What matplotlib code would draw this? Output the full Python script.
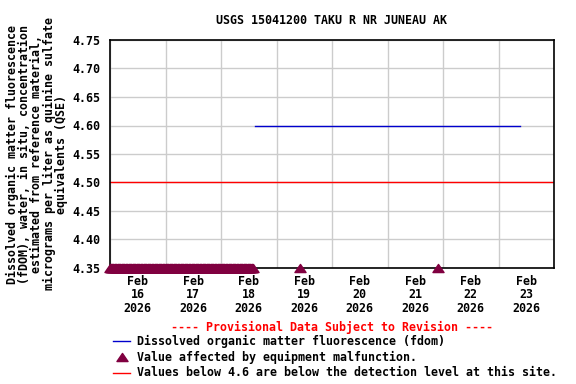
import matplotlib
matplotlib.use("Agg")
import matplotlib.pyplot as plt
import matplotlib.dates as mdates
from matplotlib.lines import Line2D
from matplotlib.path import Path
import pandas as pd

# fdom record (flat at 4.60 over the whole period)
fdom_times = ["2026-02-18 14:30", "2026-02-23 09:15"]
fdom_values = [4.60, 4.60]

# periods flagged as equipment malfunction (15-minute readings)
malf_band_start = "2026-02-16 00:00"
malf_band_end = "2026-02-18 13:45"
malf_single_times = ["2026-02-19 10:00", "2026-02-21 21:45"]

detection_level = 4.50
y_ticks = [4.35, 4.40, 4.45, 4.50, 4.55, 4.60, 4.65, 4.70, 4.75]
day_labels = ["Feb\n16\n2026", "Feb\n17\n2026", "Feb\n18\n2026", "Feb\n19\n2026",
              "Feb\n20\n2026", "Feb\n21\n2026", "Feb\n22\n2026", "Feb\n23\n2026"]
x_start, x_end = "2026-02-16 00:00", "2026-02-24 00:00"

W, H = 576, 384
FONT = dict(family="DejaVu Sans Mono", weight="bold", size=8.4)
maroon = "#800040"
# flat triangle like the usgs plots
tri = Path([(-1, -0.73), (1, -0.73), (0, 0.73), (-1, -0.73)], closed=True)

fig = plt.figure(figsize=(5.76, 3.84), dpi=100)
ax = fig.add_axes([110 / W, 1 - 268 / H, (554 - 110) / W, (268 - 40) / H])

t0, t1 = pd.Timestamp(x_start), pd.Timestamp(x_end)
ax.set_xlim(t0, t1)
ax.set_ylim(y_ticks[0], y_ticks[-1])

# gridlines at midnight, labels at noon
ax.xaxis.set_major_locator(mdates.DayLocator())
ax.xaxis.set_major_formatter(plt.NullFormatter())
noon = [t0 + pd.Timedelta(hours=12 + 24 * i) for i in range(len(day_labels))]
ax.set_xticks(noon, minor=True)
ax.set_xticklabels(day_labels, minor=True, **FONT, linespacing=1.05)
ax.tick_params(axis="x", which="both", length=0, pad=5)
ax.set_yticks(y_ticks)
ax.set_yticklabels([f"{v:.2f}" for v in y_ticks], **FONT)
ax.tick_params(axis="y", length=0, pad=7)
ax.grid(True, which="major", color="#cccccc", lw=1)
ax.set_axisbelow(True)
for s in ax.spines.values():
    s.set_linewidth(1.2)

ax.axhline(detection_level, color="red", lw=1)
ax.plot(pd.to_datetime(fdom_times), fdom_values, color="#0000cc", lw=1)

band = pd.date_range(malf_band_start, malf_band_end, freq="15min")
malf_times = list(band) + list(pd.to_datetime(malf_single_times))
ax.plot(malf_times, [y_ticks[0]] * len(malf_times), ls="none", marker=tri,
        ms=8, color=maroon, clip_on=False, zorder=5)

fig.text(332 / W, 1 - 20 / H, "USGS 15041200 TAKU R NR JUNEAU AK", ha="center", va="center", **FONT)

ylab = ("Dissolved organic matter fluorescence\n(fDOM), water, in situ, concentration\n"
        "estimated from reference material,\nmicrograms per liter as quinine sulfate\n"
        "equivalents (QSE)")
fig.text(37 / W, 1 - 154 / H, ylab, rotation=90, ha="center", va="center",
         linespacing=0.9, **FONT)

fig.text(332 / W, 1 - 327 / H, "---- Provisional Data Subject to Revision ----",
         ha="center", va="center", color="red", **FONT)

rows = [341, 357, 373]
fig.add_artist(Line2D([113 / W, 130 / W], [1 - rows[0] / H] * 2, color="#0000cc", lw=1))
fig.add_artist(Line2D([122 / W], [1 - rows[1] / H], marker=tri, ms=8, color=maroon, ls="none"))
fig.add_artist(Line2D([113 / W, 130 / W], [1 - rows[2] / H] * 2, color="red", lw=1))
texts = ["Dissolved organic matter fluorescence (fdom)",
         "Value affected by equipment malfunction.",
         "Values below 4.6 are below the detection level at this site."]
for r, t in zip(rows, texts):
    fig.text(137 / W, 1 - r / H, t, ha="left", va="center", **FONT)

fig.savefig("out.png", dpi=100)
